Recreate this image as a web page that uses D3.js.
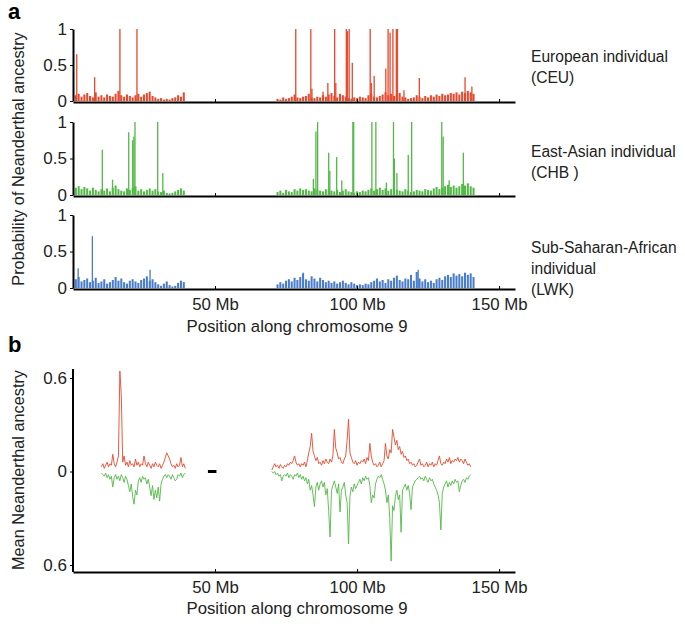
<!DOCTYPE html>
<html>
<head>
<meta charset="utf-8">
<script src="https://cdn.jsdelivr.net/npm/d3@7"></script>
<style>
  body { margin: 0; background: #fff; }
  svg { font-family: "Liberation Sans", Arial, Helvetica, sans-serif; }
</style>
</head>
<body>
<svg id="chart" width="685" height="624"></svg>
<script>
// Panel a: background level of each 1 Mb bin (left arm starts at 1 Mb, right arm at 72 Mb)
const ceuLeft = [0.08,0.10,0.06,0.09,0.11,0.07,0.05,0.12,0.06,0.08,0.05,0.09,0.07,0.06,0.10,0.14,0.08,0.06,0.09,0.07,
  0.05,0.08,0.10,0.06,0.09,0.11,0.13,0.07,0.05,0.03,0.04,0.02,0.03,0.02,0.04,0.05,0.08,0.06,0.12];
const ceuRight = [0.03,0.02,0.05,0.03,0.04,0.06,0.09,0.05,0.04,0.06, 0.07,0.10,0.05,0.04,0.06,0.05,0.08,0.06,0.09,0.11,
  0.07,0.05,0.10,0.08,0.06,0.04,0.03,0.05,0.04,0.06, 0.05,0.04,0.08,0.10,0.06,0.05,0.07,0.09,0.12,0.08,
  0.10,0.07,0.09,0.11,0.06,0.05,0.03,0.04,0.05,0.08, 0.06,0.04,0.07,0.05,0.08,0.06,0.09,0.07,0.10,0.08,
  0.09,0.11,0.10,0.12,0.09,0.13,0.11,0.14,0.12,0.10];
const ceuSpikes = [[1.3,0.65],[7.6,0.33],[16.5,1],[22.5,1],[78.4,1],[83.7,1],[84.1,0.17],[88.0,0.13],[89.7,0.25],
  [92.1,1],[92.5,0.25],[96.2,1],[96.6,0.97],[97.2,1],[98.3,0.53],[104.6,1],[105.0,0.25],[106.0,0.35],
  [110.1,0.45],[110.9,1],[111.6,0.95],[112.6,1],[113.8,1],[114.2,1],[116.5,0.15],[121.9,0.32],[138.0,0.33],[140.4,0.2]];

const chbLeft = [0.10,0.12,0.08,0.11,0.09,0.06,0.10,0.07,0.05,0.08,0.06,0.09,0.05,0.10,0.13,0.08,0.06,0.05,0.09,0.07,
  0.10,0.12,0.06,0.08,0.05,0.07,0.09,0.06,0.08,0.05,0.04,0.06,0.03,0.02,0.03,0.05,0.07,0.09,0.06];
const chbRight = [0.04,0.06,0.03,0.07,0.05,0.04,0.08,0.06,0.09,0.07, 0.08,0.06,0.05,0.09,0.07,0.06,0.05,0.08,0.07,0.06,
  0.05,0.07,0.04,0.06,0.08,0.05,0.04,0.03,0.05,0.04, 0.06,0.05,0.07,0.09,0.06,0.08,0.10,0.07,0.09,0.06,
  0.08,0.10,0.07,0.06,0.05,0.08,0.06,0.04,0.05,0.07, 0.06,0.05,0.08,0.07,0.06,0.09,0.11,0.08,0.10,0.12,
  0.14,0.11,0.13,0.10,0.12,0.15,0.13,0.16,0.12,0.10];
const chbSpikes = [[10.3,0.62],[13.9,0.21],[19.6,0.86],[21.0,0.75],[21.4,0.8],[21.8,1],[29.8,1],[31.6,0.3],
  [84.6,0.22],[85.5,0.87],[86.1,1],[90.0,0.58],[90.4,0.33],[92.8,0.52],[94.6,0.2],[98.5,1],[98.8,1],
  [105.2,1],[106.6,1],[110.3,0.17],[112.8,1],[113.1,0.5],[114.0,0.3],[118.0,0.55],[119.2,1],
  [129.8,1],[130.3,0.8],[132.4,0.2],[137.4,0.58]];

const lwkLeft = [0.12,0.15,0.09,0.11,0.13,0.08,0.10,0.14,0.07,0.09,0.12,0.06,0.08,0.11,0.15,0.10,0.13,0.08,0.06,0.10,
  0.12,0.09,0.07,0.11,0.13,0.16,0.10,0.12,0.08,0.05,0.03,0.06,0.09,0.04,0.02,0.03,0.07,0.10,0.08];
const lwkRight = [0.05,0.08,0.06,0.10,0.12,0.09,0.14,0.11,0.15,0.20, 0.12,0.10,0.16,0.13,0.09,0.14,0.11,0.08,0.10,0.07,
  0.09,0.06,0.08,0.10,0.07,0.05,0.08,0.06,0.04,0.05, 0.04,0.06,0.05,0.08,0.10,0.13,0.09,0.11,0.07,0.12,
  0.10,0.14,0.17,0.11,0.09,0.13,0.12,0.18,0.10,0.22, 0.13,0.09,0.12,0.08,0.10,0.07,0.12,0.14,0.11,0.16,
  0.18,0.15,0.20,0.17,0.19,0.16,0.21,0.18,0.20,0.15];
const lwkSpikes = [[1.8,0.27],[6.8,0.71],[27.1,0.25],[81.0,0.21],[121.5,0.25]];

// Panel b: mean ancestry per 0.5 Mb (left arm from 10 Mb, right arm from 70 Mb); East-Asian drawn downwards
const eurMeanLeft = [0.03,0.05,0.02,0.04,0.06,0.03,0.05,0.04,0.11,0.05, 0.03,0.06,0.10,0.645,0.49,0.06,0.10,0.04,0.06,0.03,
  0.07,0.04,0.05,0.03,0.08,0.04,0.06,0.03,0.05,0.04, 0.10,0.05,0.03,0.06,0.04,0.02,0.05,0.03,0.06,0.04,
  0.03,0.05,0.02,0.04,0.06,0.09,0.12,0.10,0.08,0.05, 0.03,0.04,0.02,0.05,0.03,0.04,0.09,0.03,0.05,0.02];
const eurMeanRight = [0.01,0.03,0.05,0.03,0.04,0.02,0.045,0.03,0.02,0.04, 0.03,0.05,0.04,0.06,0.05,0.07,0.10,0.06,0.04,0.05,
  0.03,0.05,0.04,0.06,0.03,0.07,0.12,0.16,0.245,0.13, 0.10,0.07,0.09,0.05,0.06,0.04,0.07,0.05,0.08,0.06,
  0.05,0.08,0.06,0.10,0.27,0.15,0.12,0.08,0.09,0.06, 0.05,0.08,0.10,0.20,0.335,0.12,0.09,0.06,0.05,0.07,
  0.04,0.06,0.05,0.07,0.06,0.08,0.05,0.09,0.07,0.18, 0.10,0.06,0.04,0.05,0.03,0.04,0.06,0.03,0.05,0.07,
  0.18,0.10,0.08,0.14,0.12,0.27,0.22,0.17,0.20,0.14, 0.16,0.11,0.13,0.09,0.10,0.07,0.08,0.05,0.06,0.04,
  0.05,0.03,0.04,0.06,0.08,0.04,0.05,0.03,0.04,0.06, 0.03,0.05,0.04,0.06,0.03,0.05,0.04,0.07,0.10,0.05,
  0.04,0.06,0.05,0.08,0.06,0.09,0.05,0.07,0.06,0.08, 0.07,0.09,0.06,0.08,0.07,0.05,0.08,0.06,0.04,0.05,
  0.03];
const asnMeanLeft = [0.01,0.02,0.03,0.01,0.04,0.02,0.05,0.03,0.10,0.04, 0.02,0.05,0.03,0.06,0.02,0.04,0.07,0.03,0.05,0.09,
  0.13,0.08,0.16,0.21,0.12,0.15,0.06,0.04,0.07,0.03, 0.05,0.04,0.08,0.05,0.10,0.155,0.09,0.18,0.12,0.17,
  0.10,0.19,0.08,0.05,0.03,0.02,0.04,0.02,0.03,0.05, 0.02,0.04,0.06,0.05,0.02,0.03,0.01,0.04,0.02,0.01];
const asnMeanRight = [0.00,0.01,0.00,0.02,0.01,0.03,0.02,0.06,0.03,0.02, 0.03,0.01,0.04,0.02,0.03,0.05,0.02,0.03,0.01,0.04,
  0.02,0.05,0.03,0.06,0.04,0.08,0.05,0.12,0.09,0.15, 0.225,0.10,0.07,0.12,0.08,0.06,0.10,0.07,0.15,0.11,
  0.25,0.42,0.12,0.09,0.06,0.10,0.14,0.08,0.26,0.12, 0.10,0.07,0.15,0.20,0.465,0.16,0.10,0.13,0.08,0.11,
  0.09,0.07,0.05,0.08,0.04,0.06,0.03,0.05,0.04,0.09, 0.20,0.15,0.17,0.08,0.05,0.03,0.04,0.02,0.05,0.08,
  0.12,0.20,0.15,0.30,0.575,0.22,0.25,0.16,0.12,0.18, 0.15,0.39,0.12,0.10,0.08,0.12,0.09,0.14,0.245,0.10,
  0.08,0.06,0.05,0.04,0.03,0.05,0.04,0.06,0.03,0.05, 0.07,0.04,0.06,0.05,0.08,0.10,0.12,0.15,0.20,0.375,
  0.14,0.10,0.08,0.06,0.10,0.07,0.09,0.06,0.08,0.05, 0.07,0.06,0.13,0.09,0.06,0.05,0.07,0.04,0.05,0.03,
  0.02];

const centromere = [47.5, 50.5];
const xTicks = [50, 100, 150];

const red = "#e8482c", green = "#52b946", blue = "#4a7ccc";

const svg = d3.select("#chart");
const x = d3.scaleLinear().domain([0, 155.6]).range([73, 515]);

// turn a list of values into {pos, v} starting at a given Mb with a given step
function bins(values, start, step) {
  return values.map((v, i) => ({pos: start + i * step, v: v}));
}

// ---------- panel a ----------
const rows = [
  {left: ceuLeft, right: ceuRight, spikes: ceuSpikes, color: red, top: 29, zero: 101,
   label: ["European individual", "(CEU)"], labelY: 62},
  {left: chbLeft, right: chbRight, spikes: chbSpikes, color: green, top: 122, zero: 195,
   label: ["East-Asian individual", "(CHB )"], labelY: 157},
  {left: lwkLeft, right: lwkRight, spikes: lwkSpikes, color: blue, top: 215, zero: 288,
   label: ["Sub-Saharan-African", "individual", "(LWK)"], labelY: 253}
];

rows.forEach((row, k) => {
  let y = d3.scaleLinear().domain([0, 1]).range([row.zero, row.top]);
  let g = svg.append("g");
  let bw = x(1) - x(0);

  let noise = bins(row.left, 1, 1).concat(bins(row.right, 72, 1));
  g.append("g").selectAll("rect")
    .data(noise)
    .enter()
    .append("rect")
    .attr("x", d => x(d.pos) - bw * 0.36)
    .attr("y", d => y(d.v))
    .attr("width", bw * 0.72)
    .attr("height", d => y(0) - y(d.v))
    .attr("fill", row.color);

  g.append("g").selectAll("rect")
    .data(row.spikes)
    .enter()
    .append("rect")
    .attr("x", d => x(d[0]) - 0.6)
    .attr("y", d => y(d[1]))
    .attr("width", 1.3)
    .attr("height", d => y(0) - y(d[1]))
    .attr("fill", row.color);

  let xa = g.append("g")
    .attr("transform", `translate(0,${row.zero + 1})`)
    .call(d3.axisBottom(x).tickValues(xTicks).tickSize(-3).tickSizeOuter(0)
      .tickFormat(k == 2 ? (d => d + " Mb") : ""));
  xa.select(".domain").attr("stroke-width", 2);
  xa.selectAll("text").attr("font-size", 16.8).attr("fill", "#222").attr("dy", "1.05em");

  let ya = g.append("g")
    .attr("transform", `translate(${x(0)},0)`)
    .call(d3.axisLeft(y).tickValues([0, 0.5, 1]).tickSize(3).tickSizeOuter(0)
      .tickFormat(d => d == 0.5 ? "0.5" : d));
  ya.select(".domain").attr("stroke-width", 2);
  ya.selectAll("text").attr("font-size", 17).attr("fill", "#222").attr("x", -6);

  g.append("text")
    .attr("x", 531)
    .attr("y", row.labelY)
    .attr("font-size", 15.6)
    .attr("fill", "#222")
    .selectAll("tspan")
    .data(row.label)
    .enter()
    .append("tspan")
    .attr("x", 531)
    .attr("dy", (d, i) => i == 0 ? 0 : 21)
    .text(d => d);
});

svg.append("text")
  .attr("transform", "translate(24,159) rotate(-90)")
  .attr("text-anchor", "middle")
  .attr("font-size", 16.3)
  .attr("fill", "#222")
  .text("Probability of Neanderthal ancestry");

svg.append("text")
  .attr("x", 297).attr("y", 332)
  .attr("text-anchor", "middle")
  .attr("font-size", 16.8)
  .attr("fill", "#222")
  .text("Position along chromosome 9");

svg.append("text")
  .attr("x", 8).attr("y", 19)
  .attr("font-size", 22).attr("font-weight", "bold")
  .text("a");

// ---------- panel b ----------
const yB = d3.scaleLinear().domain([-0.6, 0.6]).range([565, 378]);
const gb = svg.append("g");

let line = d3.line().x(d => x(d.pos)).y(d => yB(d.v));
let lineDown = d3.line().x(d => x(d.pos)).y(d => yB(-d.v));

[bins(asnMeanLeft, 10, 0.5), bins(asnMeanRight, 70, 0.5)].forEach(seg => {
  gb.append("path").datum(seg)
    .attr("d", lineDown)
    .attr("fill", "none")
    .attr("stroke", green)
    .attr("stroke-width", 0.9);
});
[bins(eurMeanLeft, 10, 0.5), bins(eurMeanRight, 70, 0.5)].forEach(seg => {
  gb.append("path").datum(seg)
    .attr("d", line)
    .attr("fill", "none")
    .attr("stroke", red)
    .attr("stroke-width", 0.9);
});

gb.append("rect")
  .attr("x", x(centromere[0]))
  .attr("y", yB(0) - 1.5)
  .attr("width", x(centromere[1]) - x(centromere[0]))
  .attr("height", 3)
  .attr("fill", "#000");

let xb = gb.append("g")
  .attr("transform", `translate(0,572)`)
  .call(d3.axisBottom(x).tickValues(xTicks).tickSize(-3).tickSizeOuter(0).tickFormat(d => d + " Mb"));
xb.select(".domain").attr("stroke-width", 2);
xb.selectAll("text").attr("font-size", 16.8).attr("fill", "#222").attr("dy", "1.05em");

let yb = gb.append("g")
  .attr("transform", `translate(${x(0)},0)`)
  .call(d3.axisLeft(yB).tickValues([-0.6, 0, 0.6]).tickSize(3).tickSizeOuter(0)
    .tickFormat(d => d == 0 ? "0" : Math.abs(d).toFixed(1)));
yb.select(".domain").attr("d", `M0,369V572`).attr("stroke-width", 2);
yb.selectAll("text").attr("font-size", 17).attr("fill", "#222").attr("x", -6);

svg.append("text")
  .attr("transform", "translate(24,470) rotate(-90)")
  .attr("text-anchor", "middle")
  .attr("font-size", 16.3)
  .attr("fill", "#222")
  .text("Mean Neanderthal ancestry");

svg.append("text")
  .attr("x", 297).attr("y", 614)
  .attr("text-anchor", "middle")
  .attr("font-size", 16.8)
  .attr("fill", "#222")
  .text("Position along chromosome 9");

svg.append("text")
  .attr("x", 8).attr("y", 352)
  .attr("font-size", 22).attr("font-weight", "bold")
  .text("b");
</script>
</body>
</html>
